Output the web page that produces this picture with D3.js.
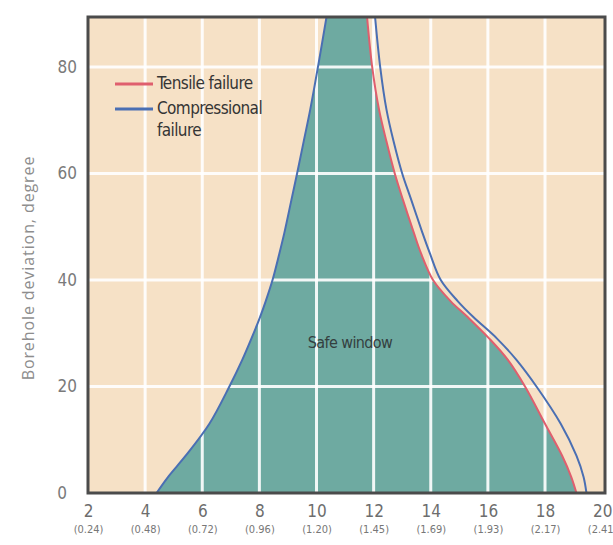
<!DOCTYPE html>
<html>
<head>
<meta charset="utf-8">
<script src="https://cdn.jsdelivr.net/npm/d3@7"></script>
<style>
  body { margin: 0; background: #fff; }
  #figure { width: 613px; height: 545px; }
</style>
</head>
<body>
<div id="figure"></div>
<script>
// borehole deviation (degree) shared by all three boundaries
const deviation = [0, 3, 7, 13, 20, 25, 29, 33, 36, 40, 45, 49, 55, 60, 66, 72, 80, 89.4];
// mud weight on the lower (collapse) side of the window
const lowerBound = [4.4, 4.8, 5.42, 6.25, 6.95, 7.4, 7.72, 8.02, 8.22, 8.46, 8.7, 8.88, 9.12, 9.32, 9.55, 9.78, 10.05, 10.35];
// tensile failure boundary
const tensile = [19.1, 18.92, 18.6, 18.0, 17.3, 16.7, 16.05, 15.3, 14.7, 14.08, 13.66, 13.4, 13.03, 12.74, 12.45, 12.19, 11.95, 11.77];
// compressional failure boundary
const compressional = [19.45, 19.35, 19.1, 18.55, 17.7, 17.0, 16.32, 15.5, 14.95, 14.35, 13.97, 13.7, 13.32, 13.0, 12.7, 12.45, 12.23, 12.05];

const xTicks = [2, 4, 6, 8, 10, 12, 14, 16, 18, 20];
const xSubLabels = ["(0.24)", "(0.48)", "(0.72)", "(0.96)", "(1.20)", "(1.45)", "(1.69)", "(1.93)", "(2.17)", "(2.41)"];
const yTicks = [0, 20, 40, 60, 80];
const seriesNames = ["Tensile failure", "Compressional", "failure"];

document.addEventListener("DOMContentLoaded", ()=>{
  const figure_width = 613, figure_height = 545;

  const margin = { top: 17, bottom: 52, left: 88, right: 8 },
        width = figure_width - margin.left - margin.right,
        height = figure_height - margin.top - margin.bottom;

  let x_scale = d3.scaleLinear()
                  .domain([2, 20.1])
                  .range([0, width]);

  let y_scale = d3.scaleLinear()
                  .domain([0, 89.4])
                  .range([height, 0]);

  let rows = deviation.map((d, i) => ({ deg: d, lo: lowerBound[i], t: tensile[i], c: compressional[i] }));

  const smooth = d3.curveCatmullRom.alpha(0.5);
  const narrowFont = "\"Liberation Sans Narrow\", \"DejaVu Sans Condensed\", sans-serif";

  let svg = d3.select("#figure").append("svg")
              .attr("width", figure_width)
              .attr("height", figure_height)
              .append("g")
              .attr("transform", "translate(" + margin.left + "," + margin.top + ")");

  svg.append("defs").append("clipPath").attr("id", "plot-clip")
     .append("rect").attr("width", width).attr("height", height);

  // background
  svg.append("rect")
     .attr("width", width).attr("height", height)
     .attr("fill", "#f6e1c6");

  // safe window
  let area = d3.area()
               .y(d => y_scale(d.deg))
               .x0(d => x_scale(d.lo))
               .x1(d => x_scale(d.t))
               .curve(smooth);

  svg.append("path")
     .datum(rows)
     .attr("clip-path", "url(#plot-clip)")
     .attr("fill", "#6eaaa1")
     .attr("d", area);

  // grid
  svg.append("g")
     .selectAll("line")
     .data(xTicks.slice(1, -1))
     .join("line")
     .attr("x1", d => x_scale(d)).attr("x2", d => x_scale(d))
     .attr("y1", 0).attr("y2", height)
     .attr("stroke", "#fff").attr("stroke-opacity", 0.9).attr("stroke-width", 3);

  svg.append("g")
     .selectAll("line")
     .data(yTicks.slice(1))
     .join("line")
     .attr("y1", d => y_scale(d)).attr("y2", d => y_scale(d))
     .attr("x1", 0).attr("x2", width)
     .attr("stroke", "#fff").attr("stroke-opacity", 0.9).attr("stroke-width", 3);

  // boundary lines
  const lineOf = key => d3.line()
                          .x(d => x_scale(d[key]))
                          .y(d => y_scale(d.deg))
                          .curve(smooth);

  const plot = svg.append("g").attr("clip-path", "url(#plot-clip)");

  plot.append("path").datum(rows)
      .attr("fill", "none").attr("stroke", "#4a6fb3").attr("stroke-width", 2)
      .attr("d", lineOf("lo"));

  plot.append("path").datum(rows)
      .attr("fill", "none").attr("stroke", "#df5f6e").attr("stroke-width", 2)
      .attr("d", lineOf("t"));

  plot.append("path").datum(rows)
      .attr("fill", "none").attr("stroke", "#4a6fb3").attr("stroke-width", 2)
      .attr("d", lineOf("c"));

  // frame
  svg.append("rect")
     .attr("width", width).attr("height", height)
     .attr("fill", "none")
     .attr("stroke", "#4b4b4b").attr("stroke-width", 3);

  // axes
  let xAxis = svg.append("g")
     .attr("transform", "translate(0," + height + ")")
     .call(d3.axisBottom(x_scale).tickValues(xTicks).tickSize(0).tickPadding(12));
  xAxis.select(".domain").remove();
  xAxis.selectAll("text").attr("font-size", 17).attr("fill", "#6d6d6d")
       .attr("font-family", narrowFont);

  let xSub = svg.append("g")
     .attr("transform", "translate(0," + height + ")")
     .call(d3.axisBottom(x_scale).tickValues(xTicks).tickSize(0).tickPadding(32)
             .tickFormat((d, i) => xSubLabels[i]));
  xSub.select(".domain").remove();
  xSub.selectAll("text").attr("font-size", 11).attr("fill", "#777")
      .attr("font-family", narrowFont);

  let yAxis = svg.append("g")
     .call(d3.axisLeft(y_scale).tickValues(yTicks).tickSize(0).tickPadding(11));
  yAxis.select(".domain").remove();
  yAxis.selectAll("text").attr("font-size", 17).attr("fill", "#7a7a7a")
       .attr("font-family", narrowFont);
  yAxis.selectAll(".tick").filter(d => d === 0).select("text").attr("dx", -10);

  svg.append("text")
     .attr("transform", "translate(" + (30 - margin.left) + "," + (268 - margin.top) + ") rotate(-90)")
     .attr("text-anchor", "middle")
     .attr("dominant-baseline", "middle")
     .attr("font-family", "\"Open Sans\", sans-serif")
     .attr("font-size", 16)
     .attr("letter-spacing", 0.9)
     .attr("fill", "#8d8d8d")
     .text("Borehole deviation, degree");

  // legend
  const lg = svg.append("g");
  lg.append("line").attr("x1", 115 - margin.left).attr("x2", 153 - margin.left)
    .attr("y1", 84 - margin.top).attr("y2", 84 - margin.top)
    .attr("stroke", "#df5f6e").attr("stroke-width", 3);
  lg.append("line").attr("x1", 115 - margin.left).attr("x2", 153 - margin.left)
    .attr("y1", 109 - margin.top).attr("y2", 109 - margin.top)
    .attr("stroke", "#4a6fb3").attr("stroke-width", 3);
  [84, 109, 131].forEach((yy, i) => {
    lg.append("text")
      .attr("x", 157 - margin.left).attr("y", yy - margin.top)
      .attr("dominant-baseline", "middle")
      .attr("font-family", narrowFont)
      .attr("font-size", 17).attr("letter-spacing", -0.6)
      .attr("fill", "#353535")
      .text(seriesNames[i]);
  });

  svg.append("text")
     .attr("x", 350 - margin.left).attr("y", 343 - margin.top)
     .attr("text-anchor", "middle").attr("dominant-baseline", "middle")
     .attr("font-family", narrowFont)
     .attr("font-size", 16).attr("letter-spacing", -0.6)
     .attr("fill", "#34403f")
     .text("Safe window");
})//DOMContentLoaded
</script>
</body>
</html>
